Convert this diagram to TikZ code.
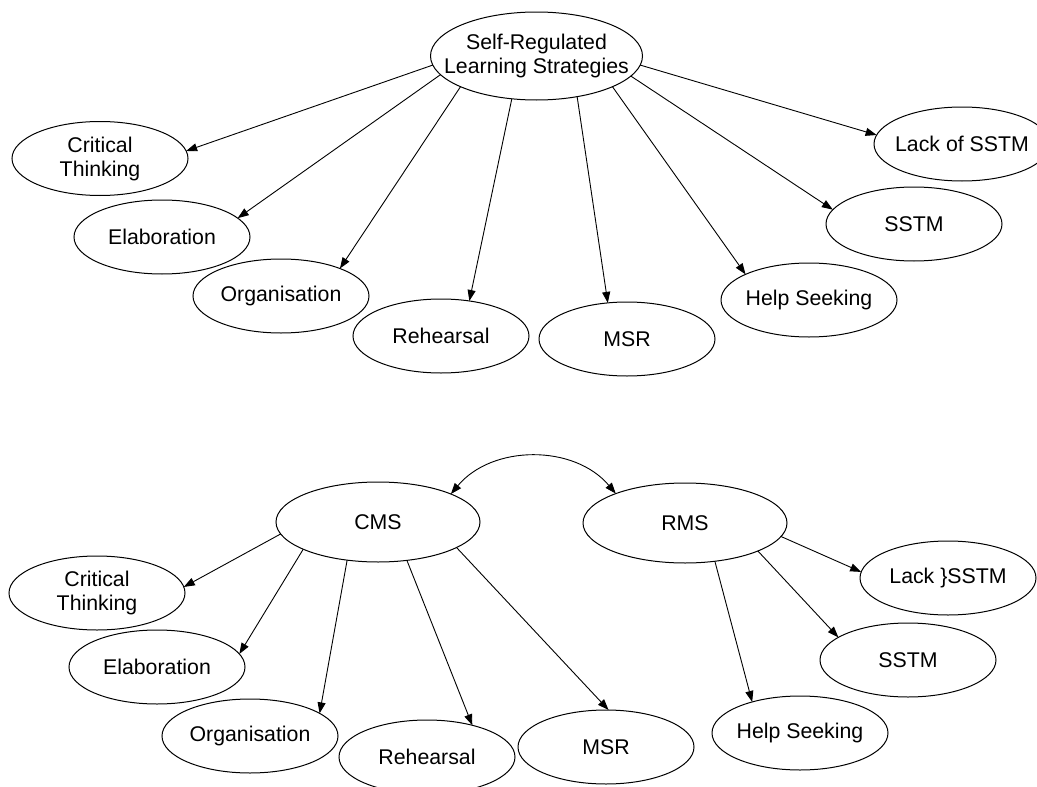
\documentclass[tikz,border=0pt]{standalone}
\usepackage{fontspec}
\setmainfont{Liberation Sans}
\usetikzlibrary{shapes.geometric,arrows.meta}
\newcommand\nodetextfont{\fontsize{21.3pt}{24pt}\selectfont}
\begin{document}
\begin{tikzpicture}[x=1pt,y=1pt,
  oval/.style={draw, ellipse, line width=1pt, minimum width=176pt, minimum height=74pt,
    inner sep=0pt, outer sep=0pt,
    label={[align=center, font=\nodetextfont, inner sep=0pt]center:#1}},
  bigoval/.style={oval={#1}, minimum width=212pt, minimum height=88pt},
  rootoval/.style={oval={#1}, minimum width=204pt, minimum height=80pt},
  link/.style={line width=0.9pt, -{Triangle[length=11pt,width=8pt]}},
  duallink/.style={line width=0.9pt, {Triangle[length=11pt,width=8pt]}-{Triangle[length=11pt,width=8pt]}},
]
\useasboundingbox (0,0) rectangle (1037,-787);
\clip (0,0) rectangle (1037,-787);

% upper tree: one root with eight strategies
\node[bigoval={Self-Regulated\\Learning Strategies}] (srls) at (536.5,-56) {};
\node[oval={Critical\\Thinking}] (ctA) at (100,-158.5) {};
\node[oval={Elaboration}] (elA) at (162,-237) {};
\node[oval={Organisation}] (orA) at (281,-296) {};
\node[oval={Rehearsal}] (reA) at (441,-336) {};
\node[oval={MSR}] (msA) at (627,-339) {};
\node[oval={Help Seeking}] (hsA) at (809,-300) {};
\node[oval={SSTM}] (ssA) at (914,-224) {};
\node[oval={Lack of SSTM}] (lkA) at (962,-144) {};

\draw[link] (srls.185) -- (ctA.5.5);
\draw[link] (srls.191) -- (elA.14.7);
\draw[link] (srls.202.7) -- (orA.25.6);
\draw[link] (srls.240.3) -- (reA.51);
\draw[link] (srls.315.3) -- (msA.118.4);
\draw[link] (srls.338.5) -- (hsA.158.5);
\draw[link] (srls.348.9) -- (ssA.170.2);
\draw[link] (srls.355) -- (lkA.174.8);

% lower trees: CMS and RMS
\node[rootoval={CMS}] (cms) at (378,-522) {};
\node[rootoval={RMS}] (rms) at (685,-523) {};
\node[oval={Critical\\Thinking}] (ctB) at (97,-593) {};
\node[oval={Elaboration}] (elB) at (157,-667) {};
\node[oval={Organisation}] (orB) at (250,-736) {};
\node[oval={Rehearsal}] (reB) at (427,-757) {};
\node[oval={MSR}] (msB) at (606,-747) {};
\node[oval={Help Seeking}] (hsB) at (800,-733) {};
\node[oval={SSTM}] (ssB) at (908,-660) {};
\node[oval={Lack \}SSTM}] (lkB) at (948,-578) {};

\draw[duallink] (cms.21.4) to[bend left=50] (rms.157.6);

\draw[link] (cms.187.7) -- (ctB.4.4);
\draw[link] (cms.200.7) -- (elB.9.6);
\draw[link] (cms.231.5) -- (orB.18.7);
\draw[link] (cms.307.6) -- (reB.35.5);
\draw[link] (cms.342.4) -- (msB.86.6);

\draw[link] (rms.308.7) -- (hsB.147.3);
\draw[link] (rms.339.4) -- (ssB.162.4);
\draw[link] (rms.352.4) -- (lkB.176);
\end{tikzpicture}
\end{document}
